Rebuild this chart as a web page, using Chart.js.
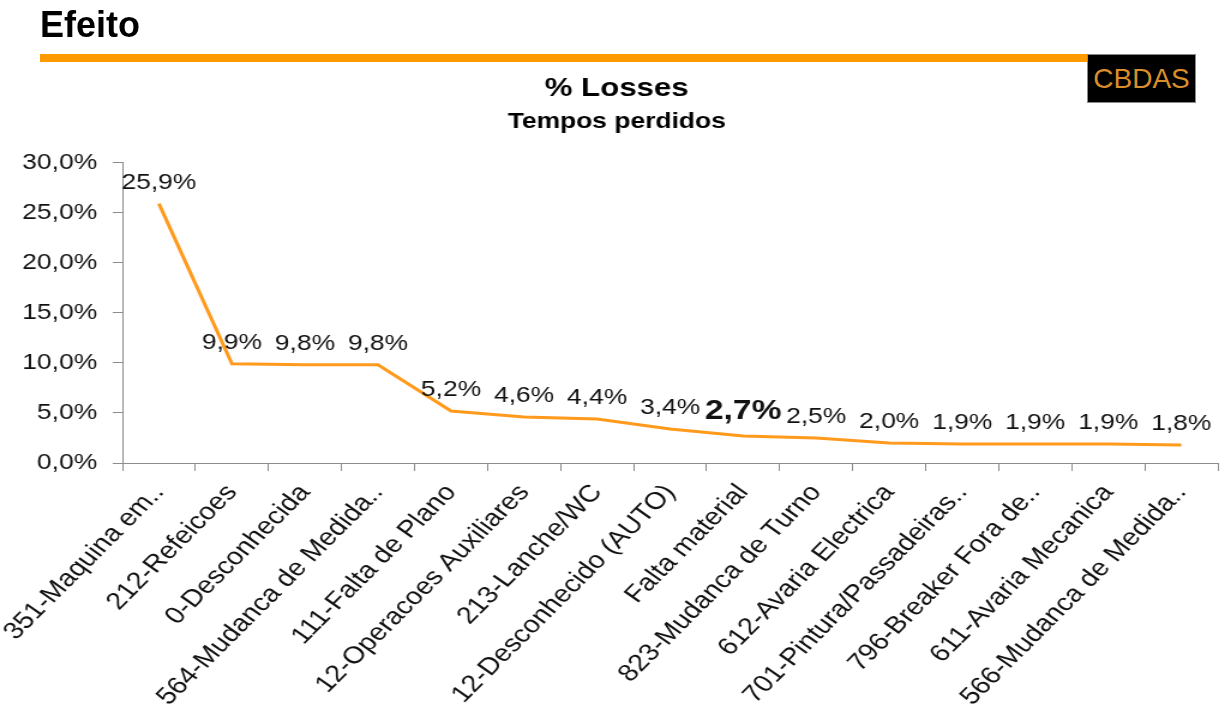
<!DOCTYPE html>
<html>
<head>
<meta charset="utf-8">
<script src="https://cdn.jsdelivr.net/npm/chart.js@4.4.0/dist/chart.umd.min.js"></script>
<style>
  html, body { margin: 0; padding: 0; background: #fff; width: 1225px; height: 709px; overflow: hidden; }
  #grafico { position: absolute; left: 0; top: 0; }
  #efeito { position: absolute; left: 40px; top: 7px; font: bold 36px/36px "Liberation Sans", Arial, sans-serif; color: #000; }
  #barra { position: absolute; left: 40px; top: 54px; width: 1048px; height: 8px; background: #ff9900; }
  #logo { position: absolute; left: 1087px; top: 54px; width: 107px; height: 47px; background: #000; border: 1px solid #8a8a8a;
          color: #d98e2b; font: 28px/47px "Liberation Sans", Arial, sans-serif; text-align: center; }
</style>
</head>
<body>
<canvas id="grafico" width="1021" height="709" style="width:1225px;height:709px"></canvas>
<div id="efeito">Efeito</div>
<div id="barra"></div>
<div id="logo">CBDAS</div>
<script>
// dados do grafico
var categorias = ['351-Maquina em..', '212-Refeicoes', '0-Desconhecida', '564-Mudanca de Medida..',
    '111-Falta de Plano', '12-Operacoes Auxiliares', '213-Lanche/WC', '12-Desconhecido (AUTO)',
    'Falta material', '823-Mudanca de Turno', '612-Avaria Electrica', '701-Pintura/Passadeiras..',
    '796-Breaker Fora de..', '611-Avaria Mecanica', '566-Mudanca de Medida..'];
var perdas = [25.9, 9.9, 9.8, 9.8, 5.2, 4.6, 4.4, 3.4, 2.7, 2.5, 2.0, 1.9, 1.9, 1.9, 1.8];
var destaque = 8; // valor mostrado a negrito
var eixoY = { min: 0, max: 30, passo: 5 };

var fonte = '"Liberation Sans", Arial, sans-serif';

function formato(v) {
    return v.toFixed(1).replace('.', ',') + '%';
}

// etiquetas por cima de cada ponto
var etiquetas = {
    id: 'etiquetas',
    afterDatasetsDraw: function (chart) {
        var ctx = chart.ctx;
        var meta = chart.getDatasetMeta(0);
        ctx.save();
        ctx.textAlign = 'center';
        ctx.textBaseline = 'alphabetic';
        ctx.fillStyle = '#111';
        meta.data.forEach(function (p, i) {
            var negrito = i === destaque;
            ctx.font = (negrito ? 'bold 28px ' : '22px ') + fonte;
            ctx.fillText(formato(perdas[i]), p.x, p.y - (negrito ? 17 : 15));
        });
        ctx.restore();
    }
};

Chart.defaults.font.family = fonte;
Chart.defaults.color = '#111';

var ctx = document.getElementById('grafico').getContext('2d');
var grafico = new Chart(ctx, {
    type: 'line',
    data: {
        labels: categorias,
        datasets: [{
            label: '% Losses',
            data: perdas,
            borderColor: '#ff9a1c',
            borderWidth: 3,
            pointRadius: 0,
            tension: 0,
            fill: false
        }]
    },
    options: {
        responsive: false,
        animation: false,
        events: [],
        layout: { padding: { left: 13, right: 6, top: 0, bottom: 0 } },
        plugins: {
            legend: { display: false },
            tooltip: { enabled: false },
            title: {
                display: true,
                text: '% Losses',
                color: '#000',
                font: { size: 26, weight: 'bold' },
                padding: { top: 73, bottom: 0 }
            },
            subtitle: {
                display: true,
                text: 'Tempos perdidos',
                color: '#000',
                font: { size: 22, weight: 'bold' },
                padding: { top: 5, bottom: 27 }
            }
        },
        scales: {
            x: {
                offset: true,
                grid: { offset: true, drawOnChartArea: false, color: '#8c8c8c', tickLength: 8 },
                border: { color: '#8c8c8c', width: 1 },
                ticks: { autoSkip: false, minRotation: 50, maxRotation: 50, padding: 8, font: { size: 24 } },
                afterFit: function (s) {
                    s.height = 246;
                    s.paddingLeft = 0;
                    s.paddingRight = 0;
                }
            },
            y: {
                min: eixoY.min,
                max: eixoY.max,
                grid: { drawOnChartArea: false, color: '#8c8c8c', tickLength: 8 },
                border: { color: '#8c8c8c', width: 1 },
                ticks: {
                    stepSize: eixoY.passo,
                    padding: 13,
                    font: { size: 22 },
                    callback: function (v) { return formato(v); }
                },
                afterFit: function (s) {
                    s.width = 89;
                }
            }
        }
    },
    plugins: [etiquetas]
});
</script>
</body>
</html>
